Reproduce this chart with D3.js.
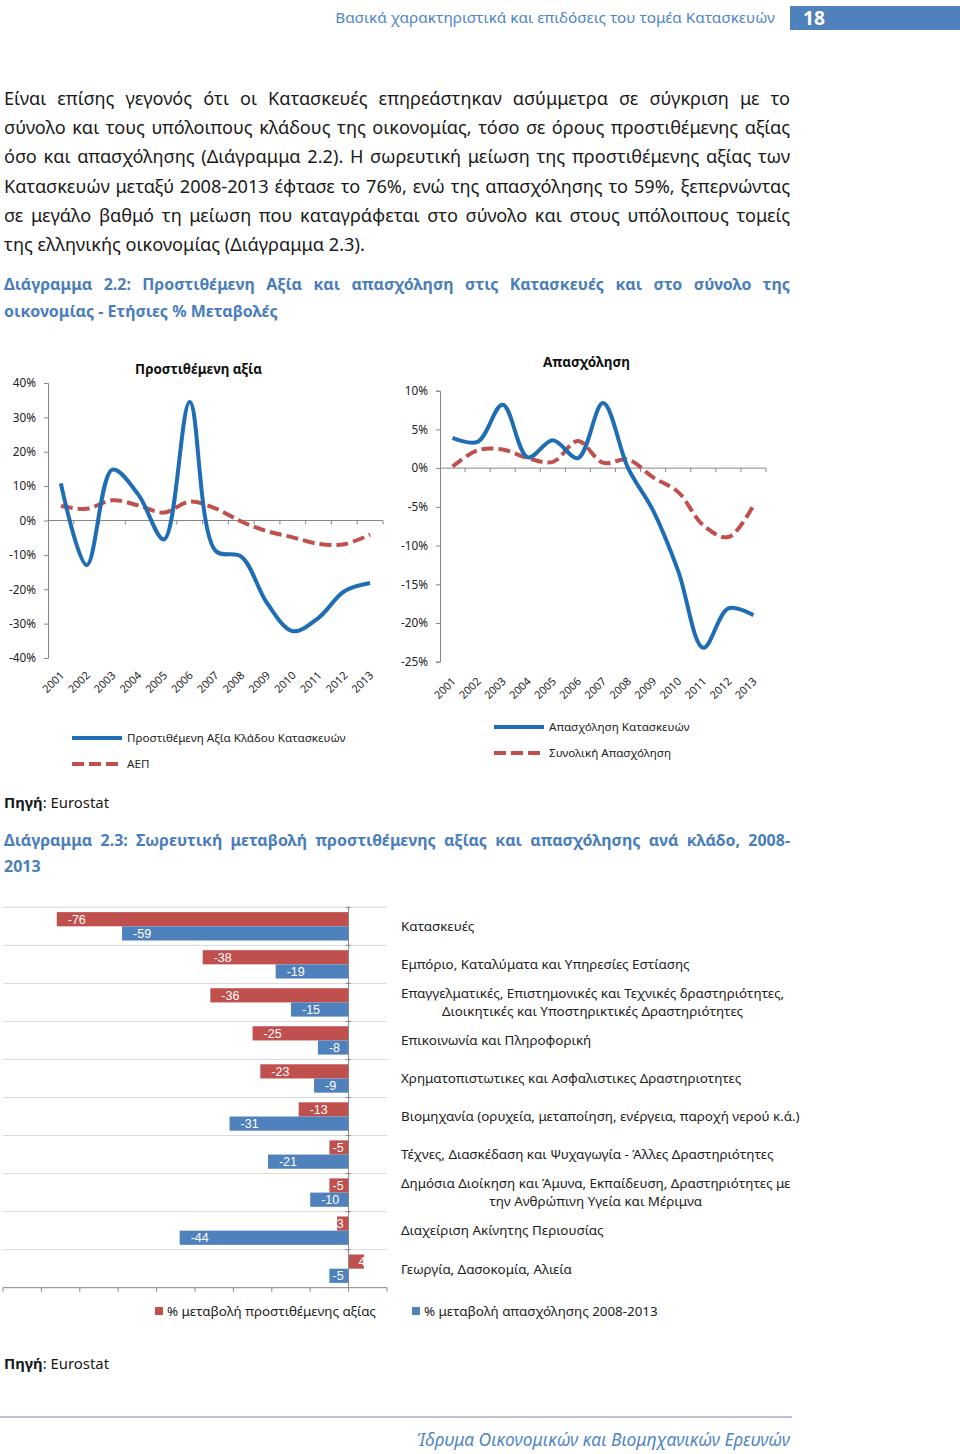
<!DOCTYPE html>
<html><head><meta charset="utf-8">
<script src="https://cdn.jsdelivr.net/npm/d3@7"></script>
<style>html,body{margin:0;padding:0;background:#fff;} svg{display:block;}</style>
</head><body>
<svg id="page" width="960" height="1454"></svg>
<script>
// ---------------- DATA ----------------
const years = ["2001","2002","2003","2004","2005","2006","2007","2008","2009","2010","2011","2012","2013"];
const vaConstruction = [10.8, -13.0, 14.8, 7.6, -5.5, 34.5, -8.8, -10.5, -24.0, -32.2, -28.3, -20.6, -18.2];
const gdp = [4.2, 3.4, 5.9, 4.4, 2.3, 5.5, 3.5, -0.3, -3.1, -4.9, -6.8, -6.9, -4.1];
const empConstruction = [3.9, 3.4, 8.2, 1.4, 3.6, 1.3, 8.4, 0.0, -5.5, -13.3, -23.2, -18.1, -19.0];
const empTotal = [0.2, 2.3, 2.4, 1.3, 0.8, 3.5, 0.7, 1.1, -1.2, -3.1, -7.4, -8.9, -4.8];
const vaTicks = [40, 30, 20, 10, 0, -10, -20, -30, -40];
const empTicks = [10, 5, 0, -5, -10, -15, -20, -25];

const sectors = [
  "Κατασκευές",
  "Εμπόριο, Καταλύματα και Υπηρεσίες Εστίασης",
  "Επαγγελματικές, Επιστημονικές και Τεχνικές δραστηριότητες,\nΔιοικητικές και Υποστηρικτικές Δραστηριότητες",
  "Επικοινωνία και Πληροφορική",
  "Χρηματοπιστωτικες και Ασφαλιστικες Δραστηριοτητες",
  "Βιομηχανία (ορυχεία, μεταποίηση, ενέργεια, παροχή νερού κ.ά.)",
  "Τέχνες, Διασκέδαση και Ψυχαγωγία - Άλλες Δραστηριότητες",
  "Δημόσια Διοίκηση και Άμυνα, Εκπαίδευση, Δραστηριότητες με\nτην Ανθρώπινη Υγεία και Μέριμνα",
  "Διαχείριση Ακίνητης Περιουσίας",
  "Γεωργία, Δασοκομία, Αλιεία"
];
const vaChange = [-76, -38, -36, -25, -23, -13, -5, -5, -3, 4];
const empChange = [-59, -19, -15, -8, -9, -31, -21, -10, -44, -5];
const barTicks = [-90, -80, -70, -60, -50, -40, -30, -20, -10, 0, 10];

const paragraph = [
  "Είναι επίσης γεγονός ότι οι Κατασκευές επηρεάστηκαν ασύμμετρα σε σύγκριση με το",
  "σύνολο και τους υπόλοιπους κλάδους της οικονομίας, τόσο σε όρους προστιθέμενης αξίας",
  "όσο και απασχόλησης (Διάγραμμα 2.2). Η σωρευτική μείωση της προστιθέμενης αξίας των",
  "Κατασκευών μεταξύ 2008-2013 έφτασε το 76%, ενώ της απασχόλησης το 59%, ξεπερνώντας",
  "σε μεγάλο βαθμό τη μείωση που καταγράφεται στο σύνολο και στους υπόλοιπους τομείς",
  "της ελληνικής οικονομίας (Διάγραμμα 2.3)."
];
const title22 = [
  "Διάγραμμα 2.2: Προστιθέμενη Αξία και απασχόληση στις Κατασκευές και στο σύνολο της",
  "οικονομίας - Ετήσιες % Μεταβολές"
];
const title23 = [
  "Διάγραμμα 2.3: Σωρευτική μεταβολή προστιθέμενης αξίας και απασχόλησης ανά κλάδο, 2008-",
  "2013"
];

// ---------------- SETUP ----------------
const BLUE_LINE = "#1f6db5", RED = "#c0504d", BLUE_BAR = "#4f81bd";
const TITLE_BLUE = "#4a7ebb", AXIS = "#868686", TXT = "#1a1a1a";
const svg = d3.select("#page").attr("font-family", "'Noto Sans','Open Sans',sans-serif");
svg.append("rect").attr("width", 960).attr("height", 1454).attr("fill", "#fff");
const meas = svg.append("text").attr("x", -2000).attr("y", -2000).attr("visibility", "hidden");
function textWidth(str, size, weight = "normal", style = "normal", family = null) {
  meas.attr("font-size", size).attr("font-weight", weight).attr("font-style", style).attr("font-family", family).text(str);
  return meas.node().getComputedTextLength();
}
function fitSize(str, target, weight = "normal", style = "normal") {
  return 20 * target / textWidth(str, 20, weight, style);
}
function block(lines, o) {
  const weight = o.weight || "normal";
  let size = fitSize(lines[lines.length - 1], o.lastWidth, weight);
  const avail = o.x1 - o.x0;
  const maxW = d3.max(lines.slice(0, -1), l => textWidth(l, size, weight));
  if (maxW > avail * 0.985) size *= avail * 0.985 / maxW;
  const g = svg.append("g").attr("font-size", size).attr("font-weight", weight).attr("fill", o.fill);
  lines.forEach((line, i) => {
    const y = o.y + i * o.lh;
    if (i === lines.length - 1) { g.append("text").attr("x", o.x0).attr("y", y).text(line); return; }
    const words = line.split(" ");
    const ws = words.map(w => textWidth(w, size, weight));
    const gap = (avail - d3.sum(ws)) / (words.length - 1);
    let x = o.x0;
    words.forEach((w, j) => { g.append("text").attr("x", x).attr("y", y).text(w); x += ws[j] + gap; });
  });
  return size;
}

// ---------------- HEADER ----------------
const hSize = fitSize("Βασικά χαρακτηριστικά και επιδόσεις του τομέα Κατασκευών", 440);
svg.append("text").attr("x", 775).attr("y", 23).attr("text-anchor", "end").attr("font-size", hSize)
  .attr("fill", "#4f86c6").text("Βασικά χαρακτηριστικά και επιδόσεις του τομέα Κατασκευών");
svg.append("rect").attr("x", 790).attr("y", 6).attr("width", 170).attr("height", 24).attr("fill", "#4f81bd");
svg.append("text").attr("x", 803).attr("y", 24.5).attr("font-size", fitSize("18", 22, "bold")).attr("font-weight", "bold")
  .attr("fill", "#fff").text("18");

// ---------------- TEXT BLOCKS ----------------
block(paragraph, { x0: 4, x1: 790, y: 105, lh: 29.2, lastWidth: 365, fill: TXT });
const tSize = block(title22, { x0: 4, x1: 790, y: 290, lh: 27, lastWidth: 274, weight: "bold", fill: TITLE_BLUE });
function source(y) {
  const s = fitSize("Πηγή: Eurostat", 103);
  const t = svg.append("text").attr("x", 4).attr("y", y).attr("font-size", s).attr("fill", TXT);
  t.append("tspan").attr("font-weight", "bold").text("Πηγή");
  t.append("tspan").text(": Eurostat");
}
source(808);
(function () {
  const g = svg.append("g").attr("font-size", tSize).attr("font-weight", "bold").attr("fill", TITLE_BLUE);
  const words = title23[0].split(" ");
  const ws = words.map(w => textWidth(w, tSize, "bold"));
  const gap = (786 - d3.sum(ws)) / (words.length - 1);
  let x = 4;
  words.forEach((w, j) => { g.append("text").attr("x", x).attr("y", 846).text(w); x += ws[j] + gap; });
  g.append("text").attr("x", 4).attr("y", 872).text(title23[1]);
})();

// ---------------- LINE CHARTS ----------------
const tickSize = fitSize("-40%", 27);
const yearSize = 11;
function lineChart(o) {
  const x = d3.scaleBand().domain(years).range([o.x0, o.x1]);
  const y = d3.scaleLinear().domain(o.domain).range([o.yb, o.yt]);
  const bw = x.bandwidth();
  const g = svg.append("g");
  const ya = g.append("g").attr("transform", `translate(${o.x0},0)`)
    .call(d3.axisLeft(y).tickValues(o.ticks).tickSize(4).tickPadding(8).tickFormat(d => d + "%"));
  ya.attr("font-family", null).attr("font-size", tickSize);
  ya.select(".domain").attr("stroke", AXIS);
  ya.selectAll(".tick line").attr("stroke", AXIS);
  ya.selectAll(".tick text").attr("fill", "#222");
  const y0 = y(0);
  g.append("line").attr("x1", o.x0).attr("x2", o.x1).attr("y1", y0).attr("y2", y0).attr("stroke", AXIS);
  g.selectAll(".xt").data(years).join("line").attr("class", "xt")
    .attr("x1", d => x(d) + bw).attr("x2", d => x(d) + bw).attr("y1", y0).attr("y2", y0 + 4).attr("stroke", AXIS);
  g.selectAll(".yl").data(years).join("text").attr("class", "yl")
    .attr("transform", d => `translate(${x(d) + bw / 2 + 4},${o.labelY}) rotate(-45)`)
    .attr("text-anchor", "end").attr("font-size", yearSize).attr("fill", "#222").text(d => d);
  const line = d3.line().x((d, i) => x(years[i]) + bw / 2).y(d => y(d)).curve(d3.curveCatmullRom.alpha(0.5));
  g.append("path").attr("d", line(o.dashed)).attr("fill", "none").attr("stroke", RED)
    .attr("stroke-width", 4).attr("stroke-dasharray", "12,5");
  g.append("path").attr("d", line(o.solid)).attr("fill", "none").attr("stroke", BLUE_LINE)
    .attr("stroke-width", 4).attr("stroke-linejoin", "round");
  const ts = fitSize(o.title, o.titleW, "bold");
  g.append("text").attr("x", o.titleX).attr("y", o.titleY).attr("text-anchor", "middle")
    .attr("font-weight", "bold").attr("font-size", ts).attr("fill", "#111").text(o.title);
}
lineChart({ x0: 48, x1: 383, yt: 383, yb: 658, domain: [-40, 40], ticks: vaTicks, labelY: 676,
  solid: vaConstruction, dashed: gdp, title: "Προστιθέμενη αξία", titleW: 127, titleX: 198.5, titleY: 374 });
lineChart({ x0: 440, x1: 766, yt: 390.7, yb: 661.7, domain: [-25, 10], ticks: empTicks, labelY: 682,
  solid: empConstruction, dashed: empTotal, title: "Απασχόληση", titleW: 87, titleX: 586.5, titleY: 367 });

const legSize = fitSize("Προστιθέμενη Αξία Κλάδου Κατασκευών", 219);
function legLine(x, y, dashed, label) {
  svg.append("line").attr("x1", x).attr("x2", x + (dashed ? 46 : 50)).attr("y1", y).attr("y2", y)
    .attr("stroke", dashed ? RED : BLUE_LINE).attr("stroke-width", 4).attr("stroke-dasharray", dashed ? "12,5" : null);
  svg.append("text").attr("x", x + 55).attr("y", y + 4).attr("font-size", legSize).attr("fill", "#222").text(label);
}
legLine(72, 738, false, "Προστιθέμενη Αξία Κλάδου Κατασκευών");
legLine(72, 764, true, "ΑΕΠ");
legLine(494, 727, false, "Απασχόληση Κατασκευών");
legLine(494, 753, true, "Συνολική Απασχόληση");

// ---------------- BAR CHART ----------------
const xb = d3.scaleLinear().domain([-90, 10]).range([3, 387]);
const yb = d3.scaleBand().domain(sectors).range([907.3, 1287.7]);
const sub = d3.scaleBand().domain(["va", "emp"]).range([0, yb.bandwidth()]).paddingOuter(0.34);
const bg = svg.append("g");
const zeroX = xb(0);
bg.selectAll(".grid").data(sectors).join("line").attr("class", "grid")
  .attr("x1", xb(-90)).attr("x2", xb(10)).attr("y1", d => yb(d)).attr("y2", d => yb(d))
  .attr("stroke", "#d9d9d9");
const bottomY = yb.range()[1];
bg.append("line").attr("x1", xb(-90)).attr("x2", xb(10)).attr("y1", bottomY).attr("y2", bottomY).attr("stroke", AXIS);
bg.selectAll(".bt").data(barTicks).join("line").attr("class", "bt")
  .attr("x1", d => xb(d)).attr("x2", d => xb(d)).attr("y1", bottomY).attr("y2", bottomY + 4).attr("stroke", AXIS);
const series = [{ key: "va", vals: vaChange, color: RED }, { key: "emp", vals: empChange, color: BLUE_BAR }];
const VAL_FONT = "'Liberation Sans', Arial, sans-serif";
const valSize = 12.5;
series.forEach(s => {
  sectors.forEach((sec, i) => {
    const v = s.vals[i];
    const x0 = Math.min(xb(v), zeroX), w = Math.abs(xb(v) - zeroX);
    bg.append("rect").attr("x", x0).attr("y", yb(sec) + sub(s.key)).attr("width", w).attr("height", sub.bandwidth()).attr("fill", s.color);
  });
});
bg.append("line").attr("x1", zeroX).attr("x2", zeroX).attr("y1", yb.range()[0]).attr("y2", bottomY).attr("stroke", AXIS);
bg.selectAll(".vt").data(sectors).join("line").attr("class", "vt")
  .attr("x1", zeroX - 3).attr("x2", zeroX + 2).attr("y1", d => yb(d)).attr("y2", d => yb(d)).attr("stroke", AXIS);
series.forEach(s => {
  sectors.forEach((sec, i) => {
    const v = s.vals[i];
    const lbl = String(v);
    const tw = textWidth(lbl, valSize, "normal", "normal", VAL_FONT);
    const lx = v < 0 ? Math.min(xb(v) + 11, zeroX - 5 - tw) : zeroX + 10;
    const cy = yb(sec) + sub(s.key) + sub.bandwidth() / 2;
    bg.append("text").attr("x", lx).attr("y", cy).attr("dy", "0.35em").attr("font-size", valSize)
      .attr("font-family", VAL_FONT).attr("fill", "#fff").text(lbl);
  });
});
const catSize = fitSize("Βιομηχανία (ορυχεία, μεταποίηση, ενέργεια, παροχή νερού κ.ά.)", 399);
sectors.forEach(sec => {
  const lines = sec.split("\n");
  const cy = yb(sec) + yb.bandwidth() / 2;
  if (lines.length === 1) {
    bg.append("text").attr("x", 401).attr("y", cy).attr("dy", "0.36em").attr("font-size", catSize)
      .attr("fill", "#222").text(lines[0]);
  } else {
    const cx = 401 + textWidth(lines[0], catSize) / 2;
    lines.forEach((l, k) => {
      bg.append("text").attr("x", cx).attr("y", cy + (k - (lines.length - 1) / 2) * 18).attr("dy", "0.36em")
        .attr("text-anchor", "middle").attr("font-size", catSize).attr("fill", "#222").text(l);
    });
  }
});
const blSize = fitSize("% μεταβολή απασχόλησης 2008-2013", 234);
[[155, RED, "% μεταβολή προστιθέμενης αξίας"], [412, BLUE_BAR, "% μεταβολή απασχόλησης 2008-2013"]].forEach(d => {
  svg.append("rect").attr("x", d[0]).attr("y", 1307).attr("width", 8).attr("height", 8).attr("fill", d[1]);
  svg.append("text").attr("x", d[0] + 12).attr("y", 1311).attr("dy", "0.36em").attr("font-size", blSize)
    .attr("fill", "#222").text(d[2]);
});
source(1369);

// ---------------- FOOTER ----------------
svg.append("line").attr("x1", 0).attr("x2", 792).attr("y1", 1417).attr("y2", 1417).attr("stroke", "#9bb1c8").attr("stroke-width", 1.5);
const fSize = fitSize("Ίδρυμα Οικονομικών και Βιομηχανικών Ερευνών", 374, "normal", "italic");
svg.append("text").attr("x", 790).attr("y", 1446).attr("text-anchor", "end").attr("font-size", fSize)
  .attr("font-style", "italic").attr("fill", "#4f86c6").text("Ίδρυμα Οικονομικών και Βιομηχανικών Ερευνών");
</script>
</body></html>
